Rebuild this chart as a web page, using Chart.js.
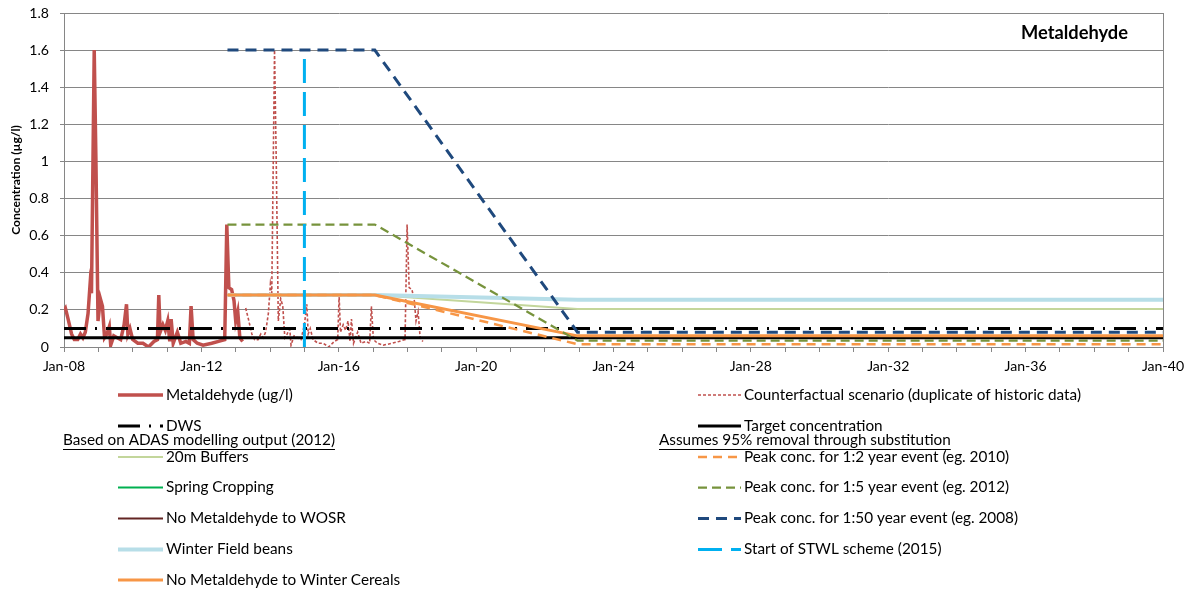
<!DOCTYPE html>
<html>
<head>
<meta charset="utf-8">
<title>Metaldehyde</title>
<script src="https://cdn.jsdelivr.net/npm/chart.js@4.4.1/dist/chart.umd.min.js"></script>
<style>
  html, body { margin: 0; padding: 0; background: #fff; }
</style>
</head>
<body>
<canvas id="chart" width="1191" height="590"></canvas>
<script>
// historic metaldehyde record (decimal years, ug/l)
const histYears = [2008.00, 2008.04, 2008.12, 2008.22, 2008.30, 2008.40, 2008.48, 2008.55, 2008.62, 2008.70,
  2008.76, 2008.80, 2008.88, 2008.93, 2008.99, 2009.06, 2009.12, 2009.18, 2009.25, 2009.32,
  2009.36, 2009.45, 2009.55, 2009.65, 2009.75, 2009.82, 2009.86, 2009.92, 2010.00, 2010.15,
  2010.30, 2010.46, 2010.62, 2010.72, 2010.76, 2010.80, 2010.88, 2010.95, 2011.02, 2011.08,
  2011.12, 2011.18, 2011.30, 2011.40, 2011.55, 2011.65, 2011.70, 2011.76, 2011.88, 2012.05,
  2012.30, 2012.50, 2012.68, 2012.74, 2012.80, 2012.88, 2012.95, 2013.00, 2013.06, 2013.12, 2013.20];
const histValues = [0.20, 0.21, 0.15, 0.07, 0.04, 0.04, 0.07, 0.05, 0.08, 0.18,
  0.34, 0.29, 1.60, 1.00, 0.14, 0.26, 0.22, 0.05, 0.07, 0.11,
  0.01, 0.06, 0.05, 0.04, 0.12, 0.23, 0.07, 0.10, 0.04, 0.02,
  0.02, 0.00, 0.03, 0.04, 0.28, 0.08, 0.12, 0.09, 0.14, 0.03,
  0.15, 0.02, 0.08, 0.02, 0.03, 0.02, 0.22, 0.04, 0.02, 0.01,
  0.02, 0.03, 0.04, 0.66, 0.32, 0.31, 0.25, 0.14, 0.19, 0.05, 0.03];

// counterfactual scenario (historic record repeated from 2013)
const cfYears = [2013.29, 2013.37, 2013.47, 2013.55, 2013.65, 2013.73, 2013.80, 2013.87, 2013.95, 2014.01,
  2014.05, 2014.13, 2014.18, 2014.24, 2014.31, 2014.37, 2014.43, 2014.50, 2014.57, 2014.61,
  2014.70, 2014.80, 2014.90, 2015.00, 2015.07, 2015.11, 2015.17, 2015.25, 2015.40, 2015.55,
  2015.71, 2015.87, 2015.97, 2016.01, 2016.05, 2016.13, 2016.20, 2016.27, 2016.33, 2016.37,
  2016.43, 2016.55, 2016.65, 2016.80, 2016.90, 2016.95, 2017.01, 2017.13, 2017.30, 2017.55,
  2017.75, 2017.93, 2017.99, 2018.05, 2018.13, 2018.20, 2018.25, 2018.31, 2018.37, 2018.45];
const cfValues = [0.21, 0.15, 0.07, 0.04, 0.04, 0.07, 0.05, 0.08, 0.18, 0.34,
  0.29, 1.60, 1.00, 0.14, 0.26, 0.22, 0.05, 0.07, 0.11, 0.01,
  0.06, 0.05, 0.04, 0.12, 0.23, 0.07, 0.10, 0.04, 0.02, 0.02,
  0.00, 0.03, 0.04, 0.28, 0.08, 0.12, 0.09, 0.14, 0.03, 0.15,
  0.02, 0.08, 0.02, 0.03, 0.02, 0.22, 0.04, 0.02, 0.01, 0.02,
  0.03, 0.04, 0.66, 0.32, 0.31, 0.25, 0.14, 0.19, 0.05, 0.03];

// whole-period reference lines
const fullYears = [2008, 2040];
const dwsValues = [0.1, 0.1];
const targetValues = [0.05, 0.05];

// scenario projections: flat, decline, then steady
const scenarioYears = [2012.76, 2017.05, 2022.95, 2040];
const buffersValues = [0.28, 0.28, 0.205, 0.205];
const springValues = [];
const wosrValues = [];
const beansValues = [0.28, 0.28, 0.255, 0.255];
const cerealsValues = [0.28, 0.28, 0.06, 0.06];
const peak2Values = [0.28, 0.28, 0.015, 0.015];
const peak5Values = [0.66, 0.66, 0.035, 0.035];
const peak50Values = [1.6, 1.6, 0.08, 0.08];

// start of scheme marker
const stwlYears = [2015, 2015];
const stwlValues = [0, 1.6];

const yTicks = [0, 0.2, 0.4, 0.6, 0.8, 1, 1.2, 1.4, 1.6, 1.8];
const xLabelYears = [2008, 2012, 2016, 2020, 2024, 2028, 2032, 2036, 2040];

function pts(xs, ys) {
    return ys.map((y, i) => ({ x: xs[i], y: y }));
}

const FONT = 'Lato, "Open Sans", sans-serif';

// the sheet used Calibri; size Lato so the texts take the same width
const probe = document.createElement('canvas').getContext('2d');
function fitSize(text, weight, width) {
    probe.font = weight + ' 100px ' + FONT;
    return Math.round(1000 * width / probe.measureText(text).width) / 10;
}
const legendSize = fitSize('Counterfactual scenario (duplicate of historic data)', 'normal', 338);
const tickSize = fitSize('Jan-08', 'normal', 42);
const titleSize = fitSize('Metaldehyde', 'bold', 107);
const axisTitleSize = fitSize('Concentration (µg/l)', 'bold', 110);

function line(label, data, color, width, dash) {
    return {
        label: label,
        data: data,
        borderColor: color,
        backgroundColor: color,
        borderWidth: width,
        borderDash: dash || [],
        pointRadius: 0,
        fill: false,
        tension: 0
    };
}

const datasets = [
    line('Metaldehyde (ug/l)', pts(histYears, histValues), '#C0504D', 3.5),
    line('Counterfactual scenario (duplicate of historic data)', pts(cfYears, cfValues), '#C0504D', 1.6, [3, 2]),
    line('DWS', pts(fullYears, dwsValues), '#000000', 3, [22, 9, 2, 9]),
    line('Target concentration', pts(fullYears, targetValues), '#000000', 3),
    line('20m Buffers', pts(scenarioYears, buffersValues), '#C3D69B', 2),
    line('Spring Cropping', pts(scenarioYears, springValues), '#00B050', 2),
    line('No Metaldehyde to WOSR', pts(scenarioYears, wosrValues), '#632523', 2),
    line('Winter Field beans', pts(scenarioYears, beansValues), '#B7DEE8', 4),
    line('No Metaldehyde to Winter Cereals', pts(scenarioYears, cerealsValues), '#F79646', 3),
    line('Peak conc. for 1:2 year event (eg. 2010)', pts(scenarioYears, peak2Values), '#F79646', 2.5, [9, 6]),
    line('Peak conc. for 1:5 year event (eg. 2012)', pts(scenarioYears, peak5Values), '#77933C', 2.25, [9, 5]),
    line('Peak conc. for 1:50 year event (eg. 2008)', pts(scenarioYears, peak50Values), '#1F497D', 3, [11, 7]),
    line('Start of STWL scheme (2015)', pts(stwlYears, stwlValues), '#00B0F0', 3, [24, 9])
];
// excel paints later series on top
datasets.forEach((d, i) => { d.order = datasets.length - i; });

// legend layout, as in the sheet: two columns with a caption above the scenarios
const legendCols = [
    { lineX: 118, textX: 166, items: ['Metaldehyde (ug/l)', 'DWS', '20m Buffers', 'Spring Cropping',
        'No Metaldehyde to WOSR', 'Winter Field beans', 'No Metaldehyde to Winter Cereals'],
      caption: 'Based on ADAS modelling output (2012)', captionX: 63 },
    { lineX: 698, textX: 744, items: ['Counterfactual scenario (duplicate of historic data)', 'Target concentration',
        'Peak conc. for 1:2 year event (eg. 2010)', 'Peak conc. for 1:5 year event (eg. 2012)',
        'Peak conc. for 1:50 year event (eg. 2008)', 'Start of STWL scheme (2015)'],
      caption: 'Assumes 95% removal through substitution', captionX: 659 }
];
const legendRowY = [395, 426, 457, 487.5, 518.5, 549.5, 580];
const captionY = 440;

const sheetLegend = {
    id: 'sheetLegend',
    afterDraw(chart) {
        const ctx = chart.ctx;
        const byLabel = {};
        chart.data.datasets.forEach(d => { byLabel[d.label] = d; });
        ctx.save();
        ctx.font = legendSize + 'px ' + FONT;
        ctx.textBaseline = 'middle';
        legendCols.forEach(col => {
            col.items.forEach((label, row) => {
                const d = byLabel[label];
                const y = legendRowY[row];
                ctx.save();
                ctx.strokeStyle = d.borderColor;
                ctx.lineWidth = d.borderWidth;
                ctx.setLineDash(d.borderDash);
                ctx.beginPath();
                ctx.moveTo(col.lineX, y);
                ctx.lineTo(col.textX - 3, y);
                ctx.stroke();
                ctx.restore();
                ctx.fillStyle = '#000';
                ctx.fillText(label, col.textX, y);
            });
            // underlined caption
            ctx.fillStyle = '#000';
            ctx.fillText(col.caption, col.captionX, captionY);
            const w = ctx.measureText(col.caption).width;
            ctx.strokeStyle = '#000';
            ctx.lineWidth = 1;
            ctx.beginPath();
            ctx.moveTo(col.captionX, captionY + 9.5);
            ctx.lineTo(col.captionX + w, captionY + 9.5);
            ctx.stroke();
        });
        ctx.restore();
    }
};

const plotFrame = {
    id: 'plotFrame',
    afterDraw(chart) {
        const a = chart.chartArea;
        const ctx = chart.ctx;
        ctx.save();
        ctx.strokeStyle = '#868686';
        ctx.lineWidth = 1;
        ctx.beginPath();
        ctx.moveTo(Math.round(a.right) + 0.5, a.top);
        ctx.lineTo(Math.round(a.right) + 0.5, a.bottom);
        ctx.stroke();
        ctx.font = 'bold ' + titleSize + 'px ' + FONT;
        ctx.fillStyle = '#000';
        ctx.textAlign = 'right';
        ctx.textBaseline = 'middle';
        ctx.fillText('Metaldehyde', 1128, 33);
        ctx.restore();
    }
};

new Chart(document.getElementById('chart'), {
    type: 'line',
    data: { datasets: datasets },
    plugins: [plotFrame, sheetLegend],
    options: {
        responsive: false,
        animation: false,
        layout: { padding: { left: 0, right: 28, top: 13, bottom: 0 } },
        plugins: {
            legend: { display: false },
            tooltip: { enabled: false }
        },
        scales: {
            x: {
                type: 'linear',
                min: 2008,
                max: 2040,
                afterFit(scale) {
                    scale.height = 243;
                    scale.paddingLeft = 0;
                    scale.paddingRight = 0;
                },
                afterBuildTicks(scale) {
                    const t = [];
                    for (let y = 2008; y <= 2040; y++) t.push({ value: y });
                    scale.ticks = t;
                },
                grid: { drawOnChartArea: false, tickLength: 5, color: '#868686' },
                border: { color: '#868686' },
                ticks: {
                    autoSkip: false,
                    maxRotation: 0,
                    padding: 6,
                    color: '#000',
                    font: { family: FONT, size: tickSize },
                    callback: v => xLabelYears.includes(v) ? 'Jan-' + String(v).slice(2) : ''
                }
            },
            y: {
                min: 0,
                max: 1.8,
                afterFit(scale) {
                    scale.width = 64;
                    scale.paddingTop = 0;
                    scale.paddingBottom = 0;
                },
                afterBuildTicks(scale) {
                    scale.ticks = yTicks.map(v => ({ value: v }));
                },
                grid: { color: '#868686', tickLength: 4 },
                border: { color: '#868686' },
                ticks: {
                    padding: 11,
                    color: '#000',
                    font: { family: FONT, size: tickSize },
                    callback: v => String(Math.round(v * 10) / 10)
                },
                title: {
                    display: true,
                    text: 'Concentration (µg/l)',
                    color: '#000',
                    font: { family: FONT, size: axisTitleSize, weight: 'bold' },
                    padding: { top: 9, bottom: 0 }
                }
            }
        }
    }
});
</script>
</body>
</html>
